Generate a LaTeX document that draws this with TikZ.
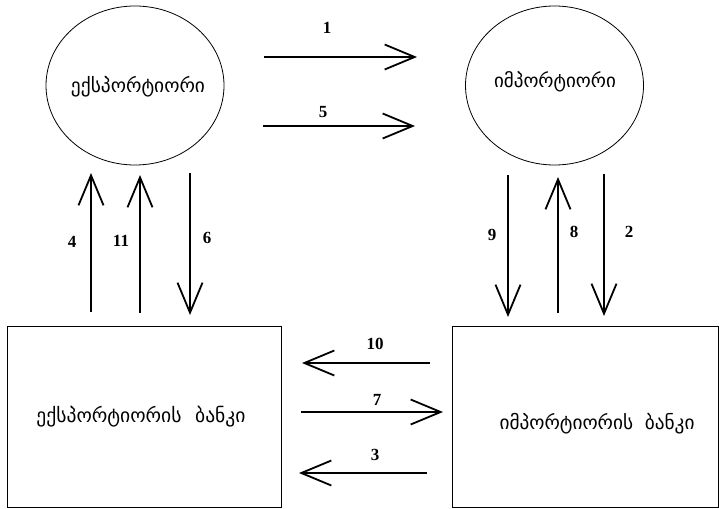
\documentclass[tikz,border=0pt]{standalone}
\usepackage{fontspec}
\usepackage{graphicx}
\setmainfont{Liberation Serif}
\newfontfamily\geo{DejaVu Sans}
\usetikzlibrary{shapes.geometric,arrows.meta}
\tikzset{
  party/.style={draw, ellipse, line width=0.8pt, inner sep=0pt, minimum width=178pt, minimum height=159pt},
  bank/.style={draw, rectangle, line width=0.8pt, inner sep=0pt, anchor=north west},
  geotext/.style={font=\geo\fontsize{11}{13}\selectfont, inner sep=0pt},
  flow/.style={line width=1.8pt, -{Straight Barb[length=30pt,width=25pt,line width=1.8pt]}},
  num/.style={font=\bfseries\fontsize{17}{18}\selectfont, inner sep=0pt}
}
\begin{document}
\begin{tikzpicture}[x=1pt,y=-1pt]
\useasboundingbox (0,0) rectangle (719,508);
% nodes
\node[party] (exp) at (135,85.5) {};
\node[party] (imp) at (554.5,85.5) {};
\node[bank, minimum width=274pt, minimum height=181pt] (expb) at (7,326) {};
\node[bank, minimum width=266pt, minimum height=181pt] (impb) at (452,326) {};
\node[geotext] (texp) at (138,87) {\resizebox{134pt}{!}{ექსპორტიორი}};
\node[geotext] (timp) at (555,82) {\resizebox{122pt}{!}{იმპორტიორი}};
\node[geotext] (texpb) at (141,417) {\resizebox{209pt}{!}{ექსპორტიორის\hspace{0.7em}ბანკი}};
\node[geotext] (timpb) at (597,424) {\resizebox{195pt}{!}{იმპორტიორის\hspace{0.6em}ბანკი}};
% arrow end coordinates
\coordinate (a1s) at (264,57);  \coordinate (a1e) at (417,57);
\coordinate (a5s) at (263,126); \coordinate (a5e) at (415,126);
\coordinate (a4s) at (91,312);  \coordinate (a4e) at (91,173);
\coordinate (a11s) at (140,313); \coordinate (a11e) at (140,175);
\coordinate (a6s) at (190,173); \coordinate (a6e) at (190,315);
\coordinate (a9s) at (508,175); \coordinate (a9e) at (508,317);
\coordinate (a8s) at (558,313); \coordinate (a8e) at (558,177);
\coordinate (a2s) at (604,174); \coordinate (a2e) at (604,316);
\coordinate (a10s) at (430,363); \coordinate (a10e) at (302,363);
\coordinate (a7s) at (301,412); \coordinate (a7e) at (443,412);
\coordinate (a3s) at (427,473); \coordinate (a3e) at (299,473);
% arrows
\draw[flow] (a1s) -- (a1e);
\draw[flow] (a5s) -- (a5e);
\draw[flow] (a4s) -- (a4e);
\draw[flow] (a11s) -- (a11e);
\draw[flow] (a6s) -- (a6e);
\draw[flow] (a9s) -- (a9e);
\draw[flow] (a8s) -- (a8e);
\draw[flow] (a2s) -- (a2e);
\draw[flow] (a10s) -- (a10e);
\draw[flow] (a7s) -- (a7e);
\draw[flow] (a3s) -- (a3e);
% labels
\node[num] (l1) at (327,28) {1};
\node[num] (l5) at (323,112) {5};
\node[num] (l4) at (72,242) {4};
\node[num] (l11) at (121,241) {11};
\node[num] (l6) at (207,238) {6};
\node[num] (l9) at (492,235) {9};
\node[num] (l8) at (574,232) {8};
\node[num] (l2) at (629,232) {2};
\node[num] (l10) at (375,344) {10};
\node[num] (l7) at (377,400) {7};
\node[num] (l3) at (375,455) {3};
\end{tikzpicture}
\end{document}
